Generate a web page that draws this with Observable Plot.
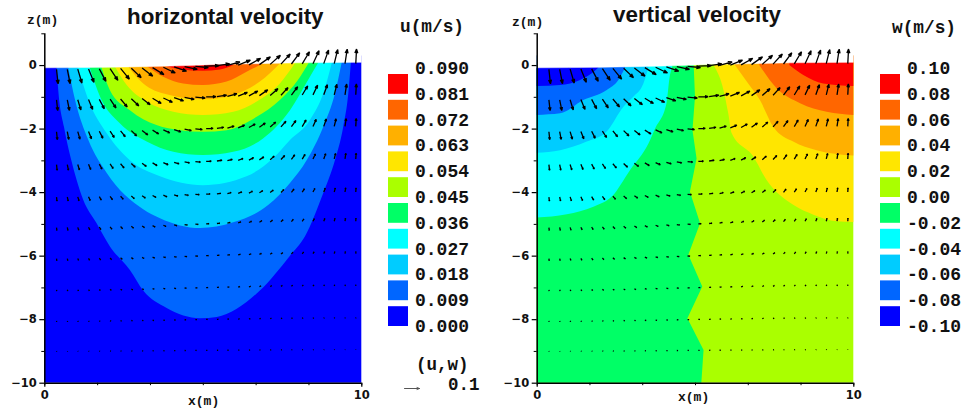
<!DOCTYPE html>
<html>
<head>
<meta charset="utf-8">
<script src="https://cdn.jsdelivr.net/npm/d3@7"></script>
<script src="https://cdn.jsdelivr.net/npm/@observablehq/plot@0.6"></script>
<style>
html,body{margin:0;padding:0;background:#fff}
#page{position:relative;width:964px;height:411px;overflow:hidden}
#page svg{position:absolute;background:transparent;overflow:visible}
.lbl{position:absolute;white-space:pre;line-height:1;color:#111;transform:translateY(-50%)}
.mono{font-family:"Liberation Mono",monospace;font-weight:bold}
.sans{font-family:"Liberation Sans",sans-serif;font-weight:bold}
</style>
</head>
<body>
<div id="page"></div>
<script>
// ---- free surface
const surfaceX = [0,1,2,3,4,5,6,7,8,9,10];
const surfaceZ = [-0.085,-0.08,-0.07,-0.05,-0.03,0,0.03,0.05,0.07,0.08,0.085];

// ---- colour classes, lowest to highest
const classColors = ["#0000ff","#0066ff","#00ccff","#00ffff","#00ff66","#aaff00","#ffe600","#ffb000","#ff6600","#ff0000"];
const uTickLabels = ["0.000","0.009","0.018","0.027","0.036","0.045","0.054","0.063","0.072","0.081","0.090"];
const wTickLabels = ["-0.10","-0.08","-0.06","-0.04","-0.02","0.00","0.02","0.04","0.06","0.08","0.10"];

// ---- horizontal velocity: lower edge [x,z] of the region above each level
const u009 = [[0.39,-0.1],[0.45,-0.9],[0.62,-1.94],[0.85,-2.99],[1.02,-3.62],[1.23,-4.25],[1.65,-4.98],[2.07,-5.71],[2.7,-6.45],[3.12,-7.1],[3.86,-7.65],[4.91,-7.97],[5.44,-7.93],[6.8,-7.1],[7.75,-6],[8.22,-5.4],[8.8,-4.03],[9.17,-2.99],[9.43,-1.94],[9.59,-0.89],[9.67,0.07]];
const u018 = [[0.76,-0.1],[0.97,-1.1],[1.39,-2.36],[1.97,-3.4],[3.12,-4.54],[3.65,-4.82],[4.91,-5.13],[5.96,-4.95],[7.07,-4.4],[7.75,-3.71],[8.28,-2.99],[8.8,-1.94],[9.17,-0.89],[9.38,0.07]];
const u027 = [[1.07,-0.1],[1.39,-1.1],[1.97,-2.15],[2.7,-3],[3.65,-3.5],[5,-3.78],[6.38,-3.5],[7.2,-2.95],[7.75,-2.36],[8.38,-1.73],[8.8,-0.89],[9.07,0.07]];
const u036 = [[1.44,-0.1],[1.76,-1],[2.39,-1.84],[3.23,-2.41],[4.07,-2.73],[5,-2.83],[5.96,-2.73],[6.9,-2.31],[7.75,-1.42],[8.32,-0.47],[8.64,0.07]];
const u045 = [[1.81,-0.1],[2.07,-0.79],[2.7,-1.42],[3.54,-1.89],[4.28,-2.05],[5,-2.1],[5.75,-2.05],[6.7,-1.63],[7.43,-1.1],[8.0,-0.47],[8.33,0.05]];
const u054 = [[2.23,-0.05],[2.6,-0.63],[3.23,-1.15],[4.07,-1.47],[5,-1.57],[5.96,-1.47],[6.7,-1.15],[7.43,-0.58],[7.9,0.05]];
const u063 = [[2.65,-0.05],[3.12,-0.58],[3.86,-0.92],[5,-1.08],[5.96,-0.94],[6.8,-0.52],[7.43,0.05]];
const u072 = [[3.23,-0.03],[3.75,-0.37],[4.38,-0.58],[5,-0.63],[5.75,-0.52],[6.38,-0.21],[6.9,0.05]];
const u081 = [[3.75,0],[4.28,-0.13],[5,-0.18],[5.54,-0.14],[5.96,0]];

// ---- vertical velocity: negative classes (corner at left)
const wM002 = [[4.95,0.2],[5.0,-1],[4.92,-2.05],[5.05,-2.94],[4.84,-3.99],[5.16,-4.98],[4.79,-5.97],[5.23,-6.97],[4.76,-7.97],[5.27,-8.97],[5.2,-10]];
const wM004 = [[0,-4.8],[0.95,-4.7],[1.79,-4.46],[2.37,-4.14],[2.95,-3.3],[3.53,-2.47],[3.74,-2],[4.1,-1.2],[4.2,-0.37],[4.28,-0.05]];
const wM006 = [[0,-2.76],[0.74,-2.68],[1.58,-2.41],[2.2,-2.1],[2.74,-1.31],[3.05,-1],[3.37,-0.58],[3.53,-0.08]];
const wM008 = [[0,-1.57],[0.74,-1.52],[1.47,-1.1],[2.2,-0.79],[2.58,-0.47],[2.79,-0.08]];
const wM010 = [[0,-0.66],[0.74,-0.63],[1.37,-0.47],[1.74,-0.26],[1.95,-0.08]];
// ---- vertical velocity: positive classes (corner at right)
const wP002 = [[5.58,0],[5.9,-0.79],[6.05,-1.52],[6.16,-2.15],[6.84,-2.88],[7.26,-3.62],[8.1,-4.4],[8.74,-4.71],[9.48,-4.92],[10,-4.94]];
const wP004 = [[6.26,0],[6.68,-0.58],[7.05,-1.1],[7.47,-1.94],[8.1,-2.41],[8.84,-2.68],[10,-2.85]];
const wP006 = [[7.03,0],[7.58,-0.73],[8.32,-1.2],[9.16,-1.47],[10,-1.57]];
const wP008 = [[7.98,0],[8.42,-0.31],[9.05,-0.58],[10,-0.66]];

// ---- velocity arrows: columns and rows
const columnX = [0.37,0.71,1.04,1.38,1.72,2.06,2.39,2.73,3.07,3.4,3.74,4.08,4.41,4.75,5.09,5.43,5.76,6.1,6.44,6.77,7.11,7.45,7.78,8.12,8.46,8.8,9.13,9.47,9.81];
const columnUShape = [0.12,0.22,0.32,0.42,0.51,0.6,0.68,0.76,0.82,0.88,0.92,0.96,0.98,1,1,0.99,0.97,0.94,0.9,0.85,0.79,0.72,0.64,0.56,0.47,0.37,0.27,0.17,0.06];
const columnWShape = [-0.99,-0.98,-0.95,-0.91,-0.86,-0.8,-0.73,-0.65,-0.57,-0.48,-0.39,-0.29,-0.18,-0.08,0.03,0.13,0.24,0.34,0.44,0.53,0.62,0.7,0.77,0.83,0.89,0.93,0.96,0.99,1];
const columnTilt = [-1,-0.97,-0.93,-0.88,-0.82,-0.75,-0.67,-0.58,-0.48,-0.38,-0.27,-0.16,-0.05,0.06,0.17,0.28,0.38,0.48,0.58,0.67,0.75,0.82,0.88,0.93,0.97,1,1,1,1];
const rowZ = [-0.03,-1,-2,-3.03,-4.06,-5,-6,-7,-8,-8.97];
const rowTilt = [0.09,0.08,0.085,0.09,0.08,0.1,0.08,0.06,0.04,0.02];
const rowU = [0.086,0.065,0.046,0.034,0.026,0.019,0.0155,0.012,0.009,0.007];
const rowW = [0.097,0.072,0.053,0.038,0.027,0.0195,0.013,0.008,0.005,0.002];
const referenceSpeed = [0.1];
const referenceLabel = "0.1";

// ---- axes
const zMajor = [0,-2,-4,-6,-8,-10];
const zMinor = [1,-1,-3,-5,-7,-9];
const xTickValues = [0,10/6,20/6,30/6,40/6,50/6,10];
const xEnds = [0,10];

// Metres of plot length per m/s: 0.1 m/s draws as long as the legend arrow.
const arrowScale = 4.73;

const arrows = rowZ.flatMap((z, r) => columnX.map((x, c) => ({
  x1: x,
  z1: z + rowTilt[r] * columnTilt[c],
  x2: x + rowU[r] * columnUShape[c] * arrowScale,
  z2: z + rowTilt[r] * columnTilt[c] + rowW[r] * columnWShape[c] * arrowScale
})));
const surface = surfaceX.map((x, i) => ({x, z: surfaceZ[i]}));
const page = document.getElementById("page");

function place(svg, left, top = 0) {
  svg.style.left = left + "px";
  svg.style.top = top + "px";
  page.appendChild(svg);
}
function label(text, left, centerY, cls, size, extra = {}) {
  const el = document.createElement("div");
  el.className = "lbl " + cls;
  el.textContent = text;
  el.style.left = left + "px";
  el.style.top = centerY + "px";
  el.style.fontSize = size + "px";
  Object.assign(el.style, extra);
  page.appendChild(el);
}

const xy = pt => pt[0];
const zy = pt => pt[1];
const skyZ = 0.3;
function bandDown(points, color, curve = "monotone-x") {
  return Plot.area(points, {x1: xy, y1: () => skyZ, y2: zy, fill: color, curve});
}
const tickFont = {fontFamily: "DejaVu Sans", fontSize: 11.5, fontWeight: "bold", fill: "#111"};
function panel(base, overlays, left, mLeft, mRight) {
  const svg = Plot.plot({
    width: 380, height: 411,
    marginLeft: mLeft, marginRight: mRight, marginTop: 33.3, marginBottom: 28.3,
    style: {background: "transparent"},
    x: {domain: [0, 10], axis: null},
    y: {domain: [-10, 1], axis: null},
    marks: [
      Plot.rect([0], {x1: () => 0, x2: () => 10, y1: () => -10, y2: () => skyZ, fill: base}),
      ...overlays,
      Plot.area(surface, {x1: "x", y1: "z", y2: () => 0.4, fill: "white", stroke: "white", strokeWidth: 0.5}),
      Plot.arrow(arrows, {x1: "x1", y1: "z1", x2: "x2", y2: "z2", stroke: "#000", strokeWidth: 1.3, strokeLinecap: "butt", headLength: 5, headAngle: 40}),
      Plot.axisY({ticks: zMinor, tickSize: 3, tickPadding: 0, text: null, label: null, strokeWidth: 1}),
      Plot.axisY({ticks: zMajor, tickSize: 5, tickPadding: 3, label: null, ...tickFont, strokeWidth: 1.2, tickFormat: d => d < 0 ? "−" + Math.abs(d) : String(d)}),
      Plot.axisX({ticks: xTickValues, tickSize: 2.5, text: null, label: null, anchor: "bottom", strokeWidth: 1}),
      Plot.axisX({ticks: xEnds, tickSize: 4, tickPadding: 4, label: null, anchor: "bottom", ...tickFont, strokeWidth: 1.2, tickFormat: d => String(d)}),
      Plot.ruleX([0], {y1: () => -10, y2: () => 1, stroke: "#000", strokeWidth: 1.5}),
      Plot.ruleY([-10], {x1: () => 0, x2: () => 10, stroke: "#000", strokeWidth: 1.5})
    ]
  });
  place(svg, left);
}

// ---- left panel
panel(classColors[0], [
  bandDown(u009, classColors[1]), bandDown(u018, classColors[2]), bandDown(u027, classColors[3]),
  bandDown(u036, classColors[4]), bandDown(u045, classColors[5]), bandDown(u054, classColors[6]),
  bandDown(u063, classColors[7]), bandDown(u072, classColors[8]), bandDown(u081, classColors[9])
], 0, 44.3, 18.7);

// ---- right panel
panel(classColors[5], [
  Plot.area(wM002, {y1: zy, x1: () => 0, x2: xy, fill: classColors[4]}),
  bandDown(wM004, classColors[3]), bandDown(wM006, classColors[2]),
  bandDown(wM008, classColors[1]), bandDown(wM010, classColors[0]),
  bandDown(wP002, classColors[6]), bandDown(wP004, classColors[7]),
  bandDown(wP006, classColors[8]), bandDown(wP008, classColors[9])
], 490, 46.7, 16.7);

// ---- legends: scale runs from the top label (0) to the bottom label (10)
function legend(ticks, left) {
  const rows = classColors.map((c, i) => ({color: c, row: 9 - i}));
  const svg = Plot.plot({
    width: 90, height: 411,
    marginLeft: 8, marginRight: 62, marginTop: 69, marginBottom: 84,
    x: {domain: [0, 1], axis: null},
    y: {domain: [10, 0], axis: null},
    marks: [
      Plot.rect(rows, {x1: () => 0, x2: () => 1, y1: "row", y2: d => d.row + 1, fill: "color", insetTop: 5, insetBottom: 1})
    ]
  });
  place(svg, left);
  ticks.slice().reverse().forEach((t, i) => label(t, left + 35, 69 + 25.8 * i, "mono", 18));
}
legend(uTickLabels, 380);
legend(wTickLabels, 872);

// ---- reference arrow
const refSvg = Plot.plot({
  width: 30, height: 10, margin: 0, marginLeft: 2, marginRight: 13,
  x: {domain: [0, 0.1], axis: null},
  y: {domain: [0, 1], axis: null},
  marks: [Plot.arrow(referenceSpeed, {x1: () => 0, x2: d => d, y1: () => 0.5, y2: () => 0.5, stroke: "#555", strokeWidth: 1, headLength: 4, headAngle: 42})]
});
place(refSvg, 402, 383);

// ---- texts
label("horizontal velocity", 127, 17, "sans", 22.4);
label("vertical velocity", 613, 15, "sans", 22.4);
label("z(m)", 27, 20, "mono", 13);
label("z(m)", 512, 22, "mono", 13);
label("x(m)", 188, 401, "mono", 13);
label("x(m)", 678, 397, "mono", 13);
label("u(m/s)", 400, 28, "mono", 17.8);
label("w(m/s)", 892, 29, "mono", 17.8);
label("(u,w)", 416, 366, "mono", 17.5);
label(referenceLabel, 448, 386, "mono", 17.5);
</script>
</body>
</html>
